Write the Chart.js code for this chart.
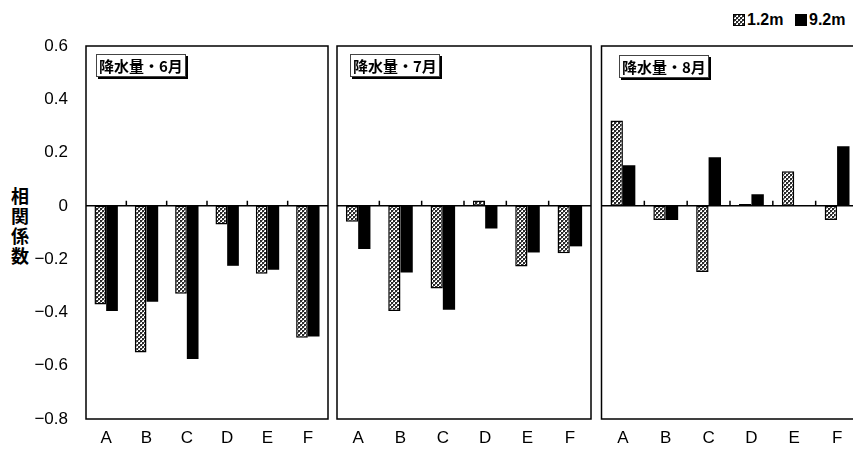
<!DOCTYPE html>
<html>
<head>
<meta charset="utf-8">
<script src="https://cdn.jsdelivr.net/npm/chart.js@4.4.1/dist/chart.umd.min.js"></script>
<style>
  html, body { margin: 0; padding: 0; background: #fff; }
  body { width: 853px; height: 457px; overflow: hidden; position: relative; }
  canvas.panel { position: absolute; top: 0; }
  .tag {
    position: absolute; font: bold 15px "Noto Sans CJK JP", sans-serif; color: #000;
    border: 1px solid #444; box-shadow: 2px 2px 0 #000; background: #fff;
    padding: 0 2px; line-height: 21px; white-space: nowrap;
  }
  #ytitle {
    position: absolute; left: 7px; top: 187px; writing-mode: vertical-rl;
    font: bold 18px "Noto Sans CJK JP", sans-serif; letter-spacing: 2px; color: #000;
  }
  .legend { position: absolute; top: 11px; font: bold 16px "Liberation Sans", sans-serif; color: #000; display: flex; align-items: center; }
  .swatch { display: inline-block; width: 12px; height: 12px; margin-right: 2px; box-sizing: border-box; }
</style>
</head>
<body>
<div id="ytitle">相関係数</div>
<div class="legend" style="left:733px"><span class="swatch" id="sw1"></span>1.2m</div>
<div class="legend" style="left:795px"><span class="swatch" style="background:#000"></span>9.2m</div>

<canvas class="panel" id="p1" width="332" height="457" style="left:0px"></canvas>
<canvas class="panel" id="p2" width="262" height="457" style="left:333px"></canvas>
<canvas class="panel" id="p3" width="270" height="457" style="left:596px"></canvas>

<div class="tag" style="left:96px; top:54px">降水量・6月</div>
<div class="tag" style="left:350px; top:54px">降水量・7月</div>
<div class="tag" style="left:619px; top:55px">降水量・8月</div>

<script>
// Correlation coefficients between rainfall and the two depths
const categories = ['A', 'B', 'C', 'D', 'E', 'F'];
const seriesNames = ['1.2m', '9.2m'];
const yTicks = [0.6, 0.4, 0.2, 0, -0.2, -0.4, -0.6, -0.8];

const june_12 = [-0.37, -0.55, -0.33, -0.07, -0.255, -0.495];
const june_92 = [-0.395, -0.36, -0.575, -0.225, -0.24, -0.49];

const july_12 = [-0.06, -0.395, -0.31, 0.02, -0.228, -0.178];
const july_92 = [-0.162, -0.25, -0.39, -0.085, -0.175, -0.152];

const aug_12 = [0.32, -0.053, -0.248, 0.007, 0.13, -0.053];
const aug_92 = [0.152, -0.053, 0.182, 0.044, 0, 0.224];

// dotted fill for the shallow series
function makeDots() {
  const c = document.createElement('canvas');
  c.width = 4; c.height = 4;
  const g = c.getContext('2d');
  g.fillStyle = '#fff'; g.fillRect(0, 0, 4, 4);
  g.fillStyle = '#2a2a2a';
  g.fillRect(0, 0, 2, 2);
  g.fillRect(2, 2, 2, 2);
  g.fillStyle = '#888';
  g.fillRect(2, 0, 1, 1);
  g.fillRect(0, 2, 1, 1);
  return c;
}
const dotTile = makeDots();
const dotPattern = document.createElement('canvas').getContext('2d').createPattern(dotTile, 'repeat');
document.getElementById('sw1').style.background = 'url(' + dotTile.toDataURL() + ')';
document.getElementById('sw1').style.border = '1px solid #000';

// frame, zero line and category separators on the zero line
const framePlugin = {
  id: 'frame',
  afterDatasetsDraw(chart) {
    const { ctx, chartArea: a, scales } = chart;
    const y0 = scales.y.getPixelForValue(0);
    ctx.save();
    ctx.strokeStyle = '#000';
    ctx.lineWidth = 1.5;
    ctx.beginPath();
    ctx.moveTo(a.left, y0); ctx.lineTo(a.right, y0);
    for (let i = 0; i < categories.length - 1; i++) {
      const xb = (scales.x.getPixelForValue(i) + scales.x.getPixelForValue(i + 1)) / 2;
      ctx.moveTo(xb, y0); ctx.lineTo(xb, y0 - 5);
    }
    ctx.stroke();
    ctx.strokeRect(a.left, a.top, a.right - a.left, a.bottom - a.top);
    ctx.restore();
  }
};

function fmt(v) {
  if (Math.abs(v) < 1e-9) return '0';
  const s = Math.abs(v).toFixed(1);
  return v < 0 ? '\u2212' + s : s;
}

function makePanel(id, vals12, vals92, opt) {
  return new Chart(document.getElementById(id), {
    type: 'bar',
    data: {
      labels: categories,
      datasets: [
        { label: seriesNames[0], data: vals12, backgroundColor: dotPattern,
          borderColor: '#000', borderWidth: 1.5, borderSkipped: false },
        { label: seriesNames[1], data: vals92, backgroundColor: '#000',
          borderColor: '#000', borderWidth: 0 }
      ]
    },
    options: {
      responsive: false,
      animation: false,
      events: [],
      layout: { padding: { top: 46, bottom: 0, left: opt.padL, right: opt.padR } },
      datasets: { bar: { barPercentage: 1.0, categoryPercentage: 0.58 } },
      plugins: { legend: { display: false }, tooltip: { enabled: false } },
      scales: {
        x: {
          grid: { display: false, drawTicks: false },
          border: { display: false },
          ticks: { padding: 9, color: '#000', font: { family: 'Liberation Sans', size: 17 } },
          afterFit(s) { s.height = 38; }
        },
        y: {
          display: opt.showY,
          min: -0.8, max: 0.6,
          grid: { display: false, drawTicks: false },
          border: { display: false },
          afterBuildTicks(s) { s.ticks = yTicks.map(v => ({ value: v })); },
          ticks: {
            padding: 18, color: '#000',
            font: { family: 'Liberation Sans', size: 17 },
            callback: v => fmt(v)
          },
          afterFit(s) { s.width = opt.yWidth || 0; }
        }
      }
    },
    plugins: [framePlugin]
  });
}

makePanel('p1', june_12, june_92, { showY: true, yWidth: 86, padL: 0, padR: 4 });
makePanel('p2', july_12, july_92, { showY: false, padL: 4, padR: 4 });
makePanel('p3', aug_12, aug_92, { showY: false, padL: 5.5, padR: 7.5 });
</script>
</body>
</html>
